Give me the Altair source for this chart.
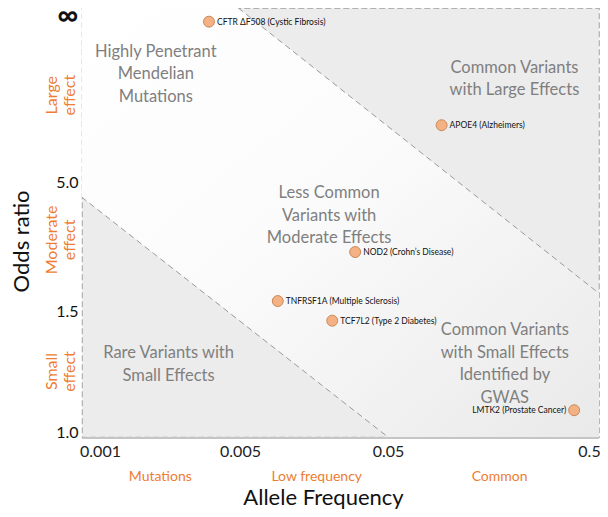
import altair as alt
import pandas as pd

# ---------------- data ----------------
INF = 20.0  # placeholder odds-ratio value drawn as "∞"

x_ticks = [0.001, 0.005, 0.05, 0.5]
y_ticks = [1.0, 1.5, 5.0, INF]

variant_names = [
    "CFTR ΔF508 (Cystic Fibrosis)",
    "APOE4 (Alzheimers)",
    "NOD2 (Crohn’s Disease)",
    "TNFRSF1A (Multiple Sclerosis)",
    "TCF7L2 (Type 2 Diabetes)",
    "LMTK2 (Prostate Cancer)",
]
variant_freq = [0.0035, 0.09, 0.03, 0.009, 0.021, 0.385]
variant_odds = [19.4, 10.1, 3.1, 1.77, 1.46, 1.09]
label_side = ["right", "right", "right", "right", "right", "left"]

# dashed boundary lines between regions
boundary_id = ["upper", "upper", "lower", "lower"]
boundary_freq = [0.0049, 0.54, 0.00081, 0.05]
boundary_odds = [20.63, 1.85, 4.59, 0.979]

# middle (white) band between the two boundaries
band_freq = [0.00081, 0.0049, 0.05, 0.54]
band_top = [20.63, 20.63, 9.98, 1.85]
band_bottom = [4.59, 1.465, 0.979, 0.979]

region_text = [
    "Highly Penetrant\nMendelian\nMutations",
    "Common Variants\nwith Large Effects",
    "Less Common\nVariants with\nModerate Effects",
    "Rare Variants with\nSmall Effects",
    "Common Variants\nwith Small Effects\nIdentified by\nGWAS",
]
region_freq = [0.0019, 0.2, 0.02, 0.0022, 0.18]
region_odds = [16.7, 15.24, 4.70, 1.326, 1.42]   # first text line

freq_class = ["Mutations", "Low frequency", "Common"]
freq_class_pos = [0.002, 0.0165, 0.17]

effect_class = ["Large\neffect", "Moderate\neffect", "Small\neffect"]
effect_class_pos = [12.8, 3.43, 1.25]

ORANGE = "#ED7D31"
GRAY_TXT = "#7F7F7F"
FONT = "Lato"

# ---------------- tables ----------------
pts = pd.DataFrame({"name": variant_names, "freq": variant_freq,
                    "odds": variant_odds, "side": label_side})
bnd = pd.DataFrame({"id": boundary_id, "freq": boundary_freq, "odds": boundary_odds})
band = pd.DataFrame({"freq": band_freq, "top": band_top, "bottom": band_bottom})
reg = pd.DataFrame({"text": region_text, "freq": region_freq, "odds": region_odds})
fcls = pd.DataFrame({"text": freq_class, "freq": freq_class_pos})
ecls = pd.DataFrame({"text": effect_class, "odds": effect_class_pos})

xscale = alt.Scale(type="log", domain=x_ticks, range=[18, 158, 306, 516], nice=False)
yscale = alt.Scale(type="linear", domain=y_ticks, range=[424, 303, 174, 7], nice=False, zero=False)

x_axis = alt.Axis(values=x_ticks, labelExpr="format(datum.value, '.3~f')", title="Allele Frequency",
                  domain=False, ticks=False, grid=False, labelFontSize=16, labelColor="#222",
                  labelFont=FONT, labelPadding=6,
                  labelOffset={"condition": {"test": "datum.value >= 0.5", "value": -9}, "value": 0},
                  titleFont=FONT, titleFontSize=22,
                  titleFontWeight="normal", titleColor="#111", titleX=241, titleY=67,
                  titleBaseline="alphabetic", labelFlush=False, labelOverlap=False)
y_axis = alt.Axis(values=y_ticks,
                  labelExpr="datum.value >= 20 ? '∞' : format(datum.value, '.1f')",
                  title="Odds ratio", domain=False, ticks=False, grid=False,
                  labelFontSize={"condition": {"test": "datum.value >= 20", "value": 29}, "value": 16},
                  labelFontWeight={"condition": {"test": "datum.value >= 20", "value": "bold"}, "value": "normal"},
                  labelColor="#111", labelFont=FONT, labelPadding=4,
                  titleFont=FONT, titleFontSize=22, titleFontWeight="normal", titleColor="#111",
                  titleX=-61, titleY=233, titleAngle=-90, titleBaseline="middle", titleAlign="center",
                  labelFlush=False, labelOverlap=False)

X = alt.X("freq:Q", scale=xscale, axis=x_axis)
Y = alt.Y("odds:Q", scale=yscale, axis=y_axis)

grad = alt.Gradient(gradient="linear",
                    stops=[alt.GradientStop(color="#ffffff", offset=0),
                           alt.GradientStop(color="#fbfbfb", offset=0.45),
                           alt.GradientStop(color="#e9e9e9", offset=1)],
                    x1=0, y1=0, x2=1, y2=1)

band_layer = alt.Chart(band).mark_area(color=grad, interpolate="linear", clip=True).encode(
    x=alt.X("freq:Q", scale=xscale, axis=x_axis),
    y=alt.Y("top:Q", scale=yscale, axis=y_axis),
    y2="bottom:Q",
)

lines = alt.Chart(bnd).mark_line(color="#9a9a9a", strokeWidth=1, strokeDash=[6, 4], clip=True).encode(
    x=X, y=Y, detail="id:N")

bottom_edge = alt.Chart(band).mark_rule(color="#c4c4c4", strokeWidth=1.5).encode(
    x=alt.value(0), x2=alt.value(517), y=alt.value(430))

regions = alt.Chart(reg).mark_text(font=FONT, fontSize=16.5, color=GRAY_TXT, lineBreak="\n",
                                   lineHeight=22.5, align="center", baseline="middle").encode(
    x=X, y=Y, text="text:N")

points = alt.Chart(pts).mark_point(shape="circle", filled=True, size=120, fill="#F4B183",
                                   stroke="#C98A5A", strokeWidth=1, opacity=1).encode(x=X, y=Y)

lab_r = alt.Chart(pts).transform_filter("datum.side == 'right'").mark_text(
    font=FONT, fontSize=8.5, color="#111", align="left", baseline="middle", dx=8).encode(
    x=X, y=Y, text="name:N")
lab_l = alt.Chart(pts).transform_filter("datum.side == 'left'").mark_text(
    font=FONT, fontSize=8.5, color="#111", align="right", baseline="middle", dx=-8).encode(
    x=X, y=Y, text="name:N")

fcl = alt.Chart(fcls).mark_text(font=FONT, fontSize=14, color=ORANGE, align="center",
                                baseline="middle").encode(
    x=X, y=alt.value(469), text="text:N")

ecl = alt.Chart(ecls).mark_text(font=FONT, fontSize=16, color=ORANGE, align="center",
                                baseline="middle", angle=270, lineBreak="\n", lineHeight=18).encode(
    x=alt.value(-30), y=Y, text="text:N")

chart = alt.layer(band_layer, lines, bottom_edge, regions, points, lab_r, lab_l, fcl, ecl).properties(
    width=517, height=429,
    autosize=alt.AutoSizeParams(type="none"),
    padding={"left": 74, "top": 0, "right": 1, "bottom": 72},
).configure_view(
    fill="#ececec", stroke="#b0b0b0", strokeDash=[6, 3], strokeWidth=1.2
)

chart.save("out.html", embed_options={"renderer": "svg", "actions": False})
